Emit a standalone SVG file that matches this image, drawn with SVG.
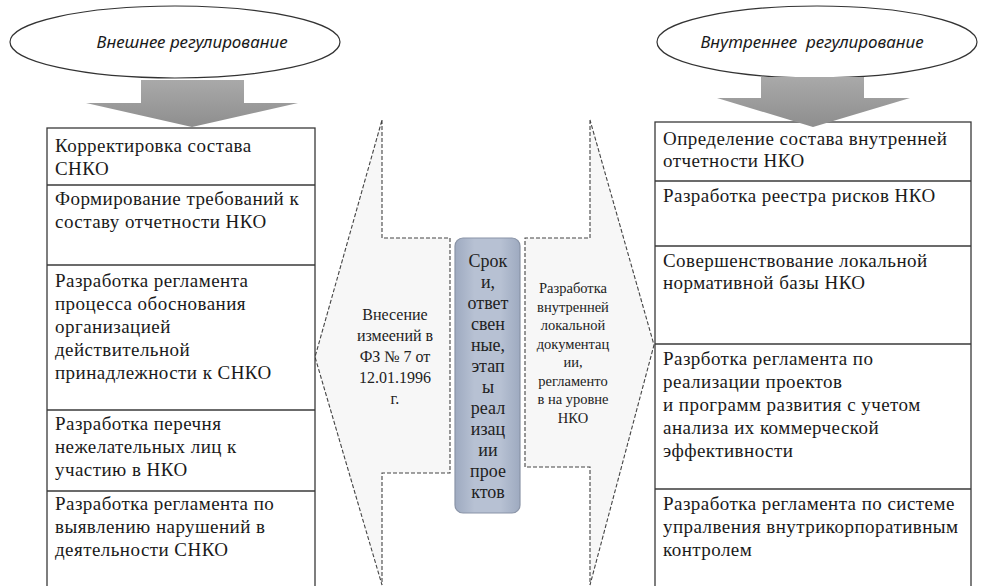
<svg xmlns="http://www.w3.org/2000/svg" width="987" height="586" viewBox="0 0 987 586">
<style>
.tbl{fill:#fff;stroke:#3a3a3a;stroke-width:1.3}
.tt{font-family:"Liberation Serif","Times New Roman",serif;font-size:19px;letter-spacing:0.45px;fill:#1a1a1a}
.ell{fill:#fff;stroke:#333;stroke-width:1.2}
.et{font-family:"Noto Sans","Open Sans",sans-serif;font-style:italic;font-size:17px;fill:#1a1a1a}
.dash{fill:#f7f7f7;stroke:#444;stroke-width:1.1;stroke-dasharray:4 2}
.ct{font-family:"Liberation Serif","Times New Roman",serif;fill:#222;text-anchor:middle}
.big{fill:url(#ga);stroke:none}
</style>
<defs>
<linearGradient id="ga" x1="0" y1="0" x2="0" y2="1">
<stop offset="0" stop-color="#a9a9a9"/>
<stop offset="1" stop-color="#8e8e8e"/>
</linearGradient>
<linearGradient id="gb" x1="0" y1="0" x2="1" y2="0">
<stop offset="0" stop-color="#9eaac0"/>
<stop offset="0.3" stop-color="#b7c1d3"/>
<stop offset="0.7" stop-color="#b7c1d3"/>
<stop offset="1" stop-color="#9eaac0"/>
</linearGradient>
</defs>

<g id="connectors">
<path class="dash" d="M382,120 L382,238 L450,238 L450,473 L382,473 L382,585 L315,357 Z"/>
<path class="dash" d="M590,120 L590,238 L525,238 L525,467 L590,467 L590,585 L654,345 Z"/>
</g>

<g id="left-table">
<rect class="tbl" x="47" y="128" width="268" height="470"/>
<line class="tbl" x1="47" y1="185" x2="315" y2="185"/>
<line class="tbl" x1="47" y1="265" x2="315" y2="265"/>
<line class="tbl" x1="47" y1="410" x2="315" y2="410"/>
<line class="tbl" x1="47" y1="491" x2="315" y2="491"/>
<text class="tt" x="55" y="152">Корректировка состава</text>
<text class="tt" x="55" y="175">СНКО</text>
<text class="tt" x="55" y="205">Формирование требований к</text>
<text class="tt" x="55" y="228">составу отчетности НКО</text>
<text class="tt" x="55" y="287">Разработка регламента</text>
<text class="tt" x="55" y="310">процесса обоснования</text>
<text class="tt" x="55" y="333">организацией</text>
<text class="tt" x="55" y="356">действительной</text>
<text class="tt" x="55" y="379">принадлежности к СНКО</text>
<text class="tt" x="55" y="430">Разработка перечня</text>
<text class="tt" x="55" y="453">нежелательных лиц к</text>
<text class="tt" x="55" y="476">участию в НКО</text>
<text class="tt" x="55" y="510">Разработка регламента по</text>
<text class="tt" x="55" y="533">выявлению нарушений в</text>
<text class="tt" x="55" y="556">деятельности СНКО</text>
</g>

<g id="right-table">
<rect class="tbl" x="655" y="122" width="316" height="476"/>
<line class="tbl" x1="655" y1="181" x2="971" y2="181"/>
<line class="tbl" x1="655" y1="246" x2="971" y2="246"/>
<line class="tbl" x1="655" y1="344" x2="971" y2="344"/>
<line class="tbl" x1="655" y1="489" x2="971" y2="489"/>
<text class="tt" x="663" y="145">Определение состава внутренней</text>
<text class="tt" x="663" y="167">отчетности НКО</text>
<text class="tt" x="663" y="202">Разработка реестра рисков НКО</text>
<text class="tt" x="663" y="267">Совершенствование локальной</text>
<text class="tt" x="663" y="289">нормативной базы НКО</text>
<text class="tt" x="663" y="365">Разрботка регламента по</text>
<text class="tt" x="663" y="388">реализации проектов</text>
<text class="tt" x="663" y="411">и программ развития с учетом</text>
<text class="tt" x="663" y="434">анализа их коммерческой</text>
<text class="tt" x="663" y="457">эффективности</text>
<text class="tt" x="663" y="510">Разработка регламента по системе</text>
<text class="tt" x="663" y="533">упралвения внутрикорпоративным</text>
<text class="tt" x="663" y="556">контролем</text>
</g>

<g id="left-head">
<ellipse class="ell" cx="175" cy="42" rx="165" ry="36"/>
<text class="et" x="192" y="48" text-anchor="middle">Внешнее регулирование</text>
<path class="big" d="M141,80 L244,80 L244,103 L298,103 L192,127 L86,103 L141,103 Z"/>
</g>

<g id="right-head">
<ellipse class="ell" cx="817" cy="42" rx="160" ry="36"/>
<text class="et" x="812" y="48" text-anchor="middle" xml:space="preserve">Внутреннее  регулирование</text>
<path class="big" d="M761,77 L864,77 L864,98 L910,98 L813,127 L717,98 L761,98 Z"/>
</g>

<g id="left-arrow-label">
<text class="ct" font-size="16"><tspan x="395" y="320">Внесение</tspan><tspan x="395" y="341">измеений в</tspan><tspan x="395" y="362">ФЗ № 7 от</tspan><tspan x="395" y="383">12.01.1996</tspan><tspan x="395" y="404">г.</tspan></text>
</g>

<g id="right-arrow-label">
<text class="ct" font-size="14.5"><tspan x="573" y="293">Разработка</tspan><tspan x="573" y="312">внутренней</tspan><tspan x="573" y="330">локальной</tspan><tspan x="573" y="349">документац</tspan><tspan x="573" y="367">ии,</tspan><tspan x="573" y="386">регламенто</tspan><tspan x="573" y="404">в на уровне</tspan><tspan x="573" y="423">НКО</tspan></text>
</g>

<g id="center-box">
<rect x="455" y="238" width="65" height="275" rx="8" fill="url(#gb)" stroke="#8a94a7" stroke-width="1.2"/>
<text class="ct" font-size="18"><tspan x="488" y="267">Срок</tspan><tspan x="488" y="288">и,</tspan><tspan x="488" y="309">ответ</tspan><tspan x="488" y="330">свен</tspan><tspan x="488" y="351">ные,</tspan><tspan x="488" y="372">этап</tspan><tspan x="488" y="393">ы</tspan><tspan x="488" y="414">реал</tspan><tspan x="488" y="435">изац</tspan><tspan x="488" y="456">ии</tspan><tspan x="488" y="477">прое</tspan><tspan x="488" y="498">ктов</tspan></text>
</g>
</svg>
